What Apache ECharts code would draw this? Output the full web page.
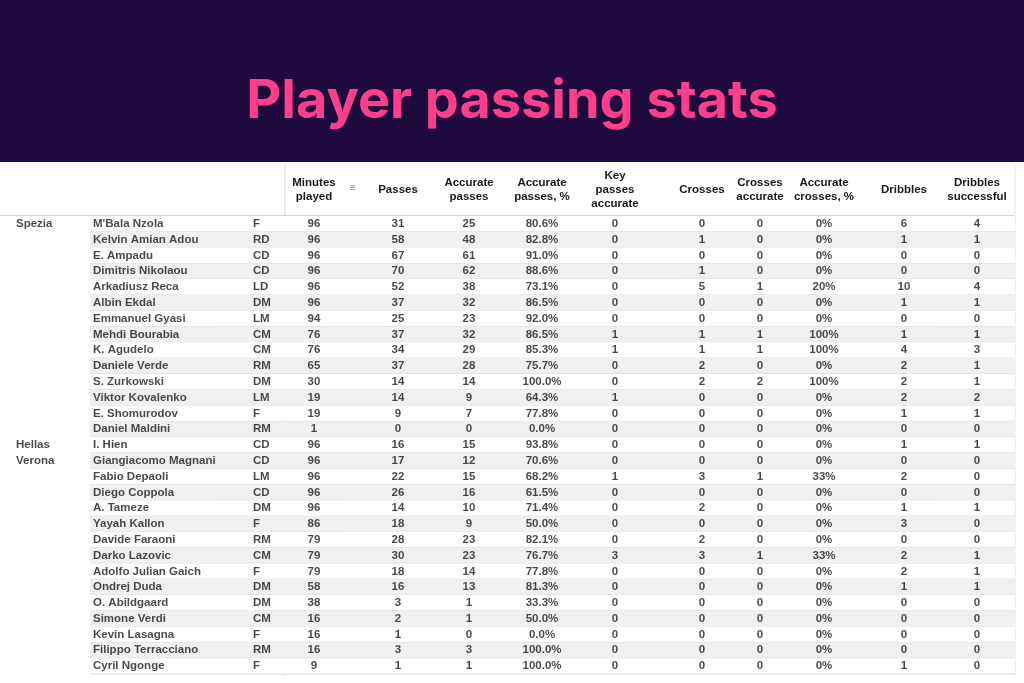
<!DOCTYPE html>
<html lang="en">
<head>
<meta charset="UTF-8">
<title>Player passing stats</title>
<script src="https://cdn.jsdelivr.net/npm/echarts@6/dist/echarts.min.js"></script>
</head>
<style>
html,body{margin:0;padding:0;}
#chartBox{width:1024px;height:683px;background:#fff;}
</style>
<body>
<div id="chartBox"></div>
<script>
// 数据
const players = ["M'Bala Nzola","Kelvin Amian Adou","E. Ampadu","Dimitris Nikolaou","Arkadiusz Reca","Albin Ekdal","Emmanuel Gyasi","Mehdi Bourabia","K. Agudelo","Daniele Verde","S. Zurkowski","Viktor Kovalenko","E. Shomurodov","Daniel Maldini","I. Hien","Giangiacomo Magnani","Fabio Depaoli","Diego Coppola","A. Tameze","Yayah Kallon","Davide Faraoni","Darko Lazovic","Adolfo Julian Gaich","Ondrej Duda","O. Abildgaard","Simone Verdi","Kevin Lasagna","Filippo Terracciano","Cyril Ngonge"];
const positions = ["F","RD","CD","CD","LD","DM","LM","CM","CM","RM","DM","LM","F","RM","CD","CD","LM","CD","DM","F","RM","CM","F","DM","DM","CM","F","RM","F"];
const minutes = [96,96,96,96,96,96,94,76,76,65,30,19,19,1,96,96,96,96,96,86,79,79,79,58,38,16,16,16,9];
const passes = [31,58,67,70,52,37,25,37,34,37,14,14,9,0,16,17,22,26,14,18,28,30,18,16,3,2,1,3,1];
const accPasses = [25,48,61,62,38,32,23,32,29,28,14,9,7,0,15,12,15,16,10,9,23,23,14,13,1,1,0,3,1];
const accPassPct = ["80.6%","82.8%","91.0%","88.6%","73.1%","86.5%","92.0%","86.5%","85.3%","75.7%","100.0%","64.3%","77.8%","0.0%","93.8%","70.6%","68.2%","61.5%","71.4%","50.0%","82.1%","76.7%","77.8%","81.3%","33.3%","50.0%","0.0%","100.0%","100.0%"];
const keyPasses = [0,0,0,0,0,0,0,1,1,0,0,1,0,0,0,0,1,0,0,0,0,3,0,0,0,0,0,0,0];
const crosses = [0,1,0,1,5,0,0,1,1,2,2,0,0,0,0,0,3,0,2,0,2,3,0,0,0,0,0,0,0];
const crossesAcc = [0,0,0,0,1,0,0,1,1,0,2,0,0,0,0,0,1,0,0,0,0,1,0,0,0,0,0,0,0];
const crossPct = ["0%","0%","0%","0%","20%","0%","0%","100%","100%","0%","100%","0%","0%","0%","0%","0%","33%","0%","0%","0%","0%","33%","0%","0%","0%","0%","0%","0%","0%"];
const dribbles = [6,1,0,0,10,1,0,1,4,2,2,2,1,0,1,0,2,0,1,3,0,2,2,1,0,0,0,0,1];
const dribblesOk = [4,1,0,0,4,1,0,1,3,1,1,2,1,0,1,0,0,0,1,0,0,1,1,1,0,0,0,0,0];
const teamLabels = [[0,"Spezia"],[14,"Hellas"],[15,"Verona"]];
const headers = ["Minutes\nplayed","Passes","Accurate\npasses","Accurate\npasses, %","Key\npasses\naccurate","Crosses","Crosses\naccurate","Accurate\ncrosses, %","Dribbles","Dribbles\nsuccessful"];

const rowIdx = players.map((p,i)=>i);
const FONT = 'Liberation Sans, Arial, sans-serif';
const centers = [314,398,469,542,615,702,760,824,904,977];
const valueCols = [minutes,passes,accPasses,accPassPct,keyPasses,crosses,crossesAcc,crossPct,dribbles,dribblesOk];

function textSeries(x, vals, align){
    return {
        type:'scatter', symbolSize:0, silent:true,
        data: vals.map((v,i)=>({value:[x,i], label:{formatter:String(v)}})),
        label:{show:true, position:'inside', align:align||'center', color:'#1a1a1a',
            fontFamily:FONT, fontWeight:'bold', fontSize:11.5}
    };
}

let chartObj = echarts.init(document.getElementById('chartBox'));
let series = [
    {
        // 斑马纹和行线
        type:'custom', silent:true,
        data: rowIdx.map(i=>[0,i]),
        renderItem: function(params, api){
            let i = api.value(1);
            let p1 = api.coord([90,i]);
            let p2 = api.coord([1015,i]);
            let h = api.size([0,1])[1];
            let top = p1[1]-h/2;
            return {type:'group', children:[
                {type:'rect', shape:{x:p1[0], y:top, width:p2[0]-p1[0], height:h},
                    style:{fill: i%2===1 ? '#f0f0f0' : '#ffffff'}},
                {type:'line', shape:{x1:p1[0], y1:top+h, x2:p2[0], y2:top+h},
                    style:{stroke:'#dcdcdc', lineWidth:1}}
            ]};
        }
    },
    {
        type:'scatter', symbolSize:0, silent:true,
        data: teamLabels.map(t=>({value:[16,t[0]], label:{formatter:t[1]}})),
        label:{show:true, position:'inside', align:'left', color:'#1a1a1a', fontFamily:FONT, fontWeight:'bold', fontSize:11.5}
    },
    textSeries(93, players, 'left'),
    textSeries(253, positions, 'left')
];
valueCols.forEach((col,k)=>series.push(textSeries(centers[k], col)));

let graphics = [
    {type:'rect', left:0, top:0, shape:{width:1024, height:162}, style:{fill:'#1e0a3c'}},
    {type:'text', x:512, y:102, style:{text:'Player passing stats', fill:'#ff3f8e',
        font:'bold 54px Inter, "Open Sans", sans-serif', align:'center', verticalAlign:'middle'}},
    {type:'line', shape:{x1:285, y1:164, x2:285, y2:676}, style:{stroke:'#d8d8d8', lineWidth:1}},
    {type:'line', shape:{x1:1015, y1:164, x2:1015, y2:676}, style:{stroke:'#e4e4e4', lineWidth:1}},
    {type:'line', shape:{x1:0, y1:215.5, x2:1015, y2:215.5}, style:{stroke:'#d0d0d0', lineWidth:1}},
    {type:'text', x:353, y:188, style:{text:'\u2261', fill:'#888', font:'10px sans-serif', align:'center', verticalAlign:'middle'}}
];
headers.forEach((h,k)=>graphics.push({type:'text', x:centers[k], y:190,
    style:{text:h, fill:'#1a1a1a', font:'bold 11.5px '+FONT, align:'center', verticalAlign:'middle', lineHeight:14}}));

chartObj.setOption({
    animation:false,
    grid:{left:0, right:0, top:216, bottom:9},
    xAxis:{type:'value', min:0, max:1024, show:false},
    yAxis:{type:'category', data:rowIdx, inverse:true, show:false},
    graphic:graphics,
    series:series
});
</script>
</body>
</html>
